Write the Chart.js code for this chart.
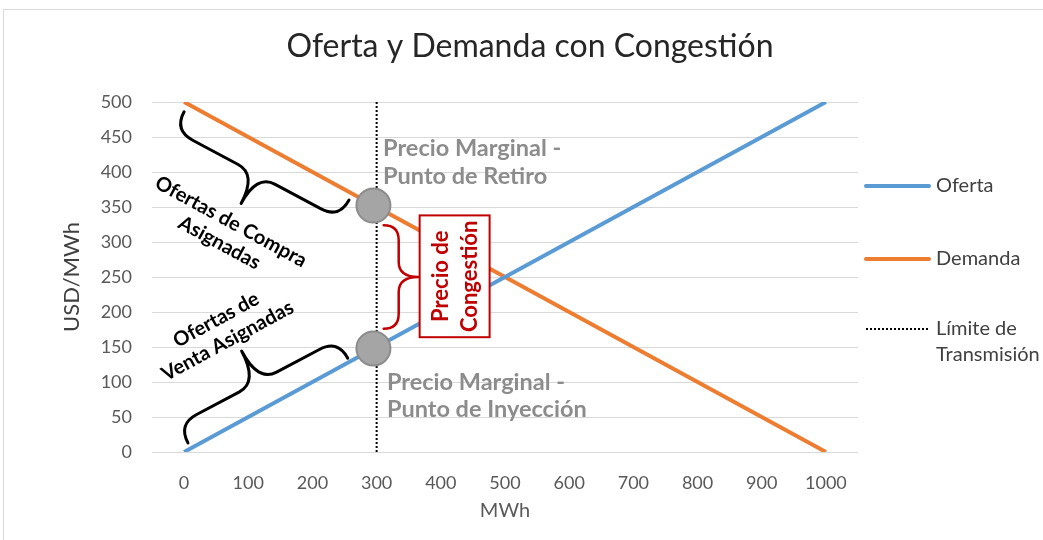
<!DOCTYPE html>
<html>
<head>
<meta charset="utf-8">
<script src="https://cdn.jsdelivr.net/npm/chart.js@4.4.1/dist/chart.umd.min.js"></script>
<style>
    html, body { margin: 0; padding: 0; background: #fff; }
    canvas { display: block; }
</style>
</head>
<body>
<canvas id="myChart" width="1043" height="540"></canvas>
<script>
// x values (MWh) of the two end points of each curve
const mwh = [0, 1000];
const oferta = [0, 500];      // supply, USD/MWh
const demanda = [500, 0];     // demand, USD/MWh
// transmission limit (vertical dotted line)
const limiteX = [300, 300];
const limiteY = [0, 500];
// marginal prices at the limit: withdrawal point, injection point
const puntosX = [295, 295];
const puntosY = [352, 148];
// axis tick labels
const xTicks = [0, 100, 200, 300, 400, 500, 600, 700, 800, 900, 1000];
const yTicks = [0, 50, 100, 150, 200, 250, 300, 350, 400, 450, 500];

const FONT = 'Lato, "Open Sans", sans-serif';

// curly brace between pixel points a and b, tip pointing to one side
function brace(ctx, a, b, side, h, t, color, w){
    const dx = b[0] - a[0], dy = b[1] - a[1];
    const len = Math.hypot(dx, dy);
    const ux = dx / len, uy = dy / len;
    const nx = -uy * side, ny = ux * side;
    const r = Math.min(h, len / 5);
    const m = [(a[0] + b[0]) / 2, (a[1] + b[1]) / 2];
    const P = (p, su, sn) => [p[0] + ux * su + nx * sn, p[1] + uy * su + ny * sn];
    ctx.save();
    ctx.strokeStyle = color;
    ctx.lineWidth = w;
    ctx.lineJoin = 'round';
    ctx.lineCap = 'round';
    ctx.beginPath();
    ctx.moveTo(a[0], a[1]);
    ctx.quadraticCurveTo(...P(a, 0, h), ...P(a, r, h));
    ctx.lineTo(...P(m, -r, h));
    ctx.quadraticCurveTo(...P(m, 0, h), ...P(m, 0, h + t));
    ctx.quadraticCurveTo(...P(m, 0, h), ...P(m, r, h));
    ctx.lineTo(...P(b, -r, h));
    ctx.quadraticCurveTo(...P(b, 0, h), b[0], b[1]);
    ctx.stroke();
    ctx.restore();
}

function textLines(ctx, lines, cx, cy, angle, lh, font, color){
    ctx.save();
    ctx.translate(cx, cy);
    ctx.rotate(angle);
    ctx.font = font;
    ctx.fillStyle = color;
    ctx.textAlign = 'center';
    ctx.textBaseline = 'middle';
    lines.forEach((s, i) => ctx.fillText(s, 0, i * lh));
    ctx.restore();
}

const notes = {
    id: 'notes',
    beforeDraw(chart){
        const ctx = chart.ctx;
        ctx.save();
        ctx.strokeStyle = '#d9d9d9';
        ctx.lineWidth = 1;
        ctx.strokeRect(3.5, 9.5, 1100, 600);
        // chart title, centred on the whole picture
        ctx.font = '32px ' + FONT;
        ctx.fillStyle = '#262626';
        ctx.textAlign = 'center';
        ctx.textBaseline = 'middle';
        ctx.fillText('Oferta y Demanda con Congestión', 530, 47);
        ctx.restore();
    },
    afterDatasetsDraw(chart){
        const {ctx, scales: {x, y}} = chart;
        const px = (vx, vy) => [x.getPixelForValue(vx), y.getPixelForValue(vy)];
        const ang = 28.5 * Math.PI / 180;

        // black braces along the curves
        brace(ctx, px(0, 486), px(257, 360), 1, 21, 33, '#000', 3);
        brace(ctx, px(6, 13), px(255, 134), -1, 21, 35, '#000', 3);
        textLines(ctx, ['Ofertas de Compra', 'Asignadas'], ...px(73, 329), ang, 24, 'bold 20px ' + FONT, '#000');
        textLines(ctx, ['Ofertas de', 'Venta Asignadas'], ...px(50, 189), -ang, 24, 'bold 20px ' + FONT, '#000');

        // congestion price: red brace and boxed label
        brace(ctx, px(311, 324), px(311, 176), -1, 15, 20, '#c00000', 2.5);
        const b1 = px(367, 338), b2 = px(476, 164);
        ctx.save();
        ctx.fillStyle = '#fff';
        ctx.fillRect(b1[0], b1[1], b2[0] - b1[0], b2[1] - b1[1]);
        ctx.strokeStyle = '#c00000';
        ctx.lineWidth = 2;
        ctx.strokeRect(b1[0], b1[1], b2[0] - b1[0], b2[1] - b1[1]);
        ctx.restore();
        textLines(ctx, ['Precio de', 'Congestión'], (b1[0] + b2[0]) / 2 - 14, (b1[1] + b2[1]) / 2, -Math.PI / 2, 29, 'bold 22px ' + FONT, '#c00000');

        // marginal price labels
        ctx.save();
        ctx.font = 'bold 23.5px ' + FONT;
        ctx.fillStyle = '#8c8c8c';
        ctx.textBaseline = 'middle';
        let p = px(310, 434);
        ctx.fillText('Precio Marginal -', p[0], p[1]);
        ctx.fillText('Punto de Retiro', p[0], p[1] + 28);
        p = px(316, 100);
        ctx.fillText('Precio Marginal -', p[0], p[1]);
        ctx.fillText('Punto de Inyección', p[0], p[1] + 27);
        ctx.restore();

        // legend on the right
        const items = [
            {text: ['Oferta'], color: '#5b9bd5', dash: [], w: 4, y: 186},
            {text: ['Demanda'], color: '#ed7d31', dash: [], w: 4, y: 259},
            {text: ['Límite de', 'Transmisión'], color: '#000', dash: [2, 2], w: 2, y: 329}
        ];
        ctx.save();
        ctx.font = '20px ' + FONT;
        ctx.textBaseline = 'middle';
        items.forEach(it => {
            ctx.beginPath();
            ctx.setLineDash(it.dash);
            ctx.strokeStyle = it.color;
            ctx.lineWidth = it.w;
            ctx.lineCap = it.dash.length ? 'butt' : 'round';
            ctx.moveTo(866, it.y);
            ctx.lineTo(929, it.y);
            ctx.stroke();
            ctx.fillStyle = '#404040';
            it.text.forEach((s, i) => ctx.fillText(s, 936, it.y + i * 26));
        });
        ctx.restore();
    }
};

const ctx = document.getElementById('myChart');
const myChart = new Chart(ctx, {
    type: 'scatter',
    data: {
        datasets: [
            {
                label: 'Puntos',
                data: puntosX.map((v, i) => ({x: v, y: puntosY[i]})),
                backgroundColor: '#a5a5a5',
                borderColor: '#8c8c8c',
                borderWidth: 2,
                pointRadius: 17,
                order: 0
            },
            {
                label: 'Oferta',
                data: mwh.map((v, i) => ({x: v, y: oferta[i]})),
                showLine: true,
                borderColor: '#5b9bd5',
                borderWidth: 4,
                pointRadius: 0,
                order: 1
            },
            {
                label: 'Demanda',
                data: mwh.map((v, i) => ({x: v, y: demanda[i]})),
                showLine: true,
                borderColor: '#ed7d31',
                borderWidth: 4,
                pointRadius: 0,
                order: 1
            },
            {
                label: 'Límite de Transmisión',
                data: limiteX.map((v, i) => ({x: v, y: limiteY[i]})),
                showLine: true,
                borderColor: '#000',
                borderWidth: 2,
                borderDash: [2, 2],
                pointRadius: 0,
                order: 2
            }
        ]
    },
    options: {
        responsive: false,
        animation: false,
        layout: { padding: { left: 0, right: 185, top: 102, bottom: 0 } },
        scales: {
            x: {
                type: 'linear',
                min: -50,
                max: 1050,
                afterBuildTicks: s => { s.ticks = xTicks.map(v => ({value: v})); },
                afterFit: s => { s.height = 88; },
                grid: { display: false },
                border: { display: false },
                ticks: { color: '#595959', font: { family: FONT, size: 18 }, padding: 12, maxRotation: 0, callback: v => String(v) },
                title: { display: true, text: 'MWh', color: '#595959', font: { family: FONT, size: 20 }, padding: { bottom: 17 } }
            },
            y: {
                min: 0,
                max: 500,
                afterBuildTicks: s => { s.ticks = yTicks.map(v => ({value: v})); },
                afterFit: s => { s.width = 152; },
                grid: { color: '#d9d9d9', drawTicks: false },
                border: { display: false },
                ticks: { color: '#595959', font: { family: FONT, size: 18 }, padding: 20, callback: v => String(v) },
                title: { display: true, text: 'USD/MWh', color: '#404040', font: { family: FONT, size: 22 }, padding: { top: 59 } }
            }
        },
        plugins: {
            legend: { display: false },
            tooltip: { enabled: false },
            title: { display: false }
        }
    },
    plugins: [notes]
});
</script>
</body>
</html>
